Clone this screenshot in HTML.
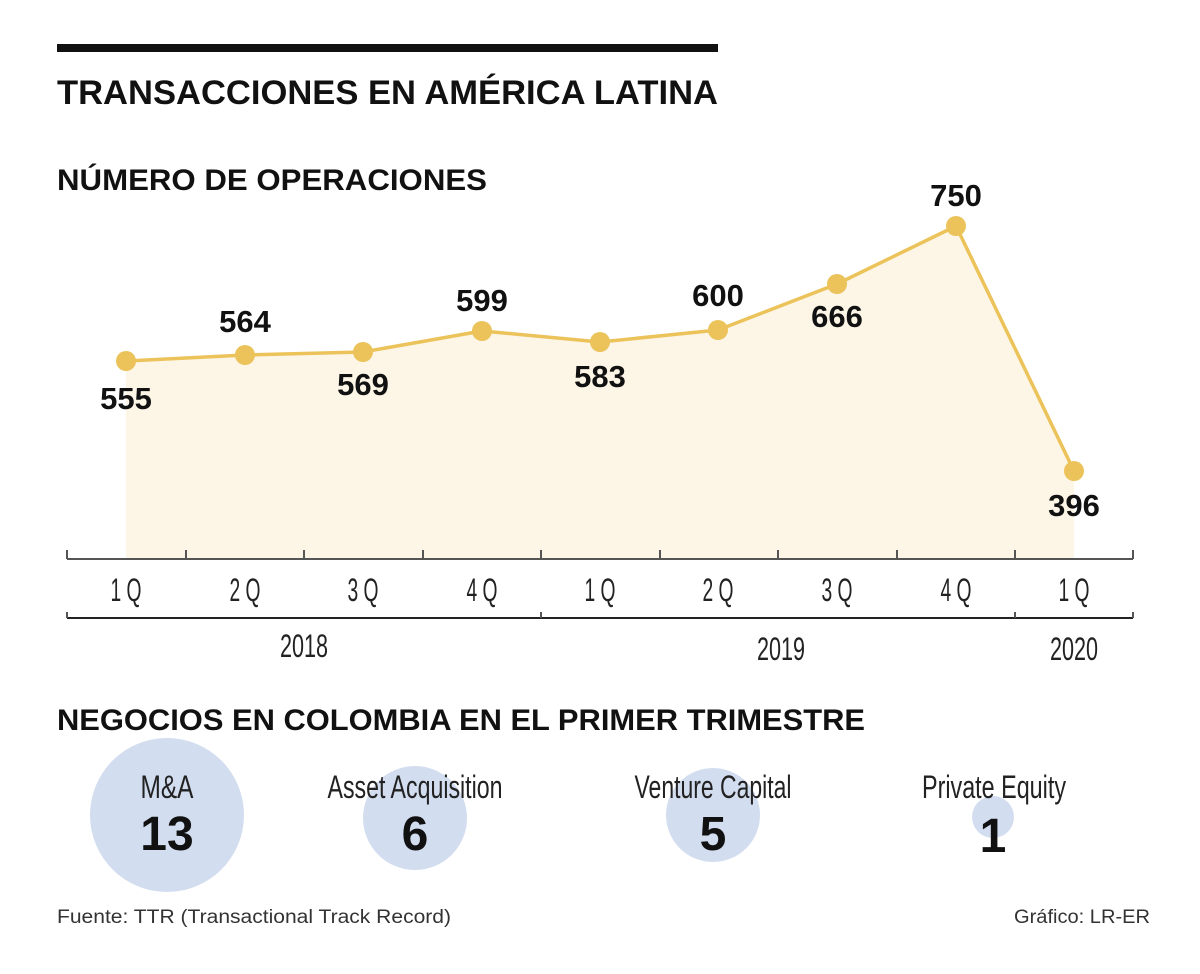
<!DOCTYPE html>
<html><head><meta charset="utf-8"><style>
body{margin:0;background:#fff}
svg{display:block}
.t{font-family:"Liberation Sans",sans-serif}
</style></head><body>
<svg width="1200" height="974" viewBox="0 0 1200 974" xmlns="http://www.w3.org/2000/svg">
<rect x="57" y="44" width="661" height="8" fill="#111"/>
<g class="t" font-weight="bold" fill="#111">
<text x="57" y="104" font-size="34" textLength="661" lengthAdjust="spacingAndGlyphs">TRANSACCIONES EN AMÉRICA LATINA</text>
<text x="57" y="190" font-size="30" textLength="430" lengthAdjust="spacingAndGlyphs">NÚMERO DE OPERACIONES</text>
<text x="57" y="730" font-size="30" textLength="808" lengthAdjust="spacingAndGlyphs">NEGOCIOS EN COLOMBIA EN EL PRIMER TRIMESTRE</text>
</g>
<polygon points="126,361 245,355 363,352 482,331 600,342 718,330 837,284 956,226 1074,471 1074,559 126,559" fill="#fdf6e6"/>
<polyline points="126,361 245,355 363,352 482,331 600,342 718,330 837,284 956,226 1074,471" fill="none" stroke="#ecc35a" stroke-width="3.5" stroke-linejoin="round"/>
<g fill="#ecc35a">
<circle cx="126" cy="361" r="10"/><circle cx="245" cy="355" r="10"/><circle cx="363" cy="352" r="10"/><circle cx="482" cy="331" r="10"/><circle cx="600" cy="342" r="10"/><circle cx="718" cy="330" r="10"/><circle cx="837" cy="284" r="10"/><circle cx="956" cy="226" r="10"/><circle cx="1074" cy="471" r="10"/>
</g>
<g font-family="Liberation Sans,sans-serif" font-weight="bold" font-size="31" fill="#111" text-anchor="middle">
<text x="126" y="409">555</text><text x="245" y="332">564</text><text x="363" y="395">569</text><text x="482" y="311">599</text><text x="600" y="387">583</text><text x="718" y="306">600</text><text x="837" y="327">666</text><text x="956" y="206">750</text><text x="1074" y="516">396</text>
</g>
<g stroke="#555" stroke-width="2" fill="none">
<line x1="67" y1="559" x2="1133" y2="559"/>
<path d="M67 550V559M186 550V559M304 550V559M423 550V559M541 550V559M660 550V559M778 550V559M897 550V559M1015 550V559M1133 550V559"/>
<line x1="67" y1="618" x2="1133" y2="618" stroke="#222"/>
<path d="M67 612V618M541 612V618M1015 612V618M1133 612V618"/>
</g>
<g class="t" font-size="32" fill="#222" text-anchor="middle">
<text x="126" y="601" textLength="31" lengthAdjust="spacingAndGlyphs">1 Q</text><text x="245" y="601" textLength="31" lengthAdjust="spacingAndGlyphs">2 Q</text><text x="363" y="601" textLength="31" lengthAdjust="spacingAndGlyphs">3 Q</text><text x="482" y="601" textLength="31" lengthAdjust="spacingAndGlyphs">4 Q</text><text x="600" y="601" textLength="31" lengthAdjust="spacingAndGlyphs">1 Q</text><text x="718" y="601" textLength="31" lengthAdjust="spacingAndGlyphs">2 Q</text><text x="837" y="601" textLength="31" lengthAdjust="spacingAndGlyphs">3 Q</text><text x="956" y="601" textLength="31" lengthAdjust="spacingAndGlyphs">4 Q</text><text x="1074" y="601" textLength="31" lengthAdjust="spacingAndGlyphs">1 Q</text>
<text x="304" y="657" textLength="48" lengthAdjust="spacingAndGlyphs">2018</text><text x="781" y="660" textLength="48" lengthAdjust="spacingAndGlyphs">2019</text><text x="1074" y="660" textLength="48" lengthAdjust="spacingAndGlyphs">2020</text>
</g>
<g fill="#d3ddf0">
<circle cx="167" cy="815" r="77"/><circle cx="415" cy="818" r="52"/><circle cx="713" cy="815" r="47"/><circle cx="993" cy="817" r="21"/>
</g>
<g class="t" font-size="32" fill="#222" text-anchor="middle">
<text x="167" y="798" textLength="53" lengthAdjust="spacingAndGlyphs">M&amp;A</text><text x="415" y="798" textLength="175" lengthAdjust="spacingAndGlyphs">Asset Acquisition</text><text x="713" y="798" textLength="157" lengthAdjust="spacingAndGlyphs">Venture Capital</text><text x="994" y="798" textLength="144" lengthAdjust="spacingAndGlyphs">Private Equity</text>
</g>
<g font-family="Liberation Sans,sans-serif" font-weight="bold" font-size="48" fill="#111" text-anchor="middle">
<text x="167" y="850">13</text><text x="415" y="850">6</text><text x="713" y="850">5</text><text x="993" y="852">1</text>
</g>
<g font-family="Liberation Sans,sans-serif" font-size="19" fill="#333">
<text x="57" y="923" textLength="394" lengthAdjust="spacingAndGlyphs">Fuente: TTR (Transactional Track Record)</text>
<text x="1014" y="923" textLength="136" lengthAdjust="spacingAndGlyphs">Gráfico: LR-ER</text>
</g>
</svg>
</body></html>
